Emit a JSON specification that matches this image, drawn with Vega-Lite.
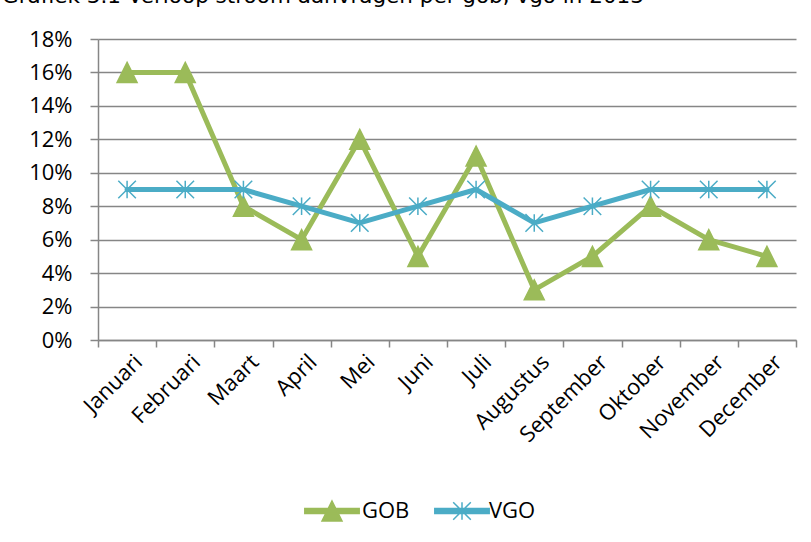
{
  "$schema": "https://vega.github.io/schema/vega-lite/v6.json",
  "width": 698,
  "height": 301,
  "autosize": "none",
  "padding": {"left": 98, "top": 39, "right": 15, "bottom": 202},
  "background": "white",
  "title": {
    "text": "Grafiek 3.1 Verloop stroom aanvragen per gob, vgo in 2013",
    "anchor": "start",
    "frame": "group",
    "font": "DejaVu Sans",
    "fontSize": 21.5,
    "fontWeight": "normal",
    "color": "#000000",
    "baseline": "alphabetic",
    "offset": 0,
    "dx": -96,
    "dy": -4
  },
  "config": {
    "view": {"stroke": null},
    "axis": {"labelFont": "Open Sans", "labelFontSize": 22, "labelColor": "#000000"},
    "legend": {"labelFont": "Open Sans", "labelFontSize": 22, "labelColor": "#000000"}
  },
  "data": {
    "values": [
      {"month": "Januari", "series": "GOB", "value": 0.16},
      {"month": "Februari", "series": "GOB", "value": 0.16},
      {"month": "Maart", "series": "GOB", "value": 0.08},
      {"month": "April", "series": "GOB", "value": 0.06},
      {"month": "Mei", "series": "GOB", "value": 0.12},
      {"month": "Juni", "series": "GOB", "value": 0.05},
      {"month": "Juli", "series": "GOB", "value": 0.11},
      {"month": "Augustus", "series": "GOB", "value": 0.03},
      {"month": "September", "series": "GOB", "value": 0.05},
      {"month": "Oktober", "series": "GOB", "value": 0.08},
      {"month": "November", "series": "GOB", "value": 0.06},
      {"month": "December", "series": "GOB", "value": 0.05},
      {"month": "Januari", "series": "VGO", "value": 0.09},
      {"month": "Februari", "series": "VGO", "value": 0.09},
      {"month": "Maart", "series": "VGO", "value": 0.09},
      {"month": "April", "series": "VGO", "value": 0.08},
      {"month": "Mei", "series": "VGO", "value": 0.07},
      {"month": "Juni", "series": "VGO", "value": 0.08},
      {"month": "Juli", "series": "VGO", "value": 0.09},
      {"month": "Augustus", "series": "VGO", "value": 0.07},
      {"month": "September", "series": "VGO", "value": 0.08},
      {"month": "Oktober", "series": "VGO", "value": 0.09},
      {"month": "November", "series": "VGO", "value": 0.09},
      {"month": "December", "series": "VGO", "value": 0.09}
    ]
  },
  "encoding": {
    "x": {
      "field": "month",
      "type": "nominal",
      "sort": ["Januari", "Februari", "Maart", "April", "Mei", "Juni", "Juli", "Augustus", "September", "Oktober", "November", "December"],
      "scale": {"type": "band", "paddingInner": 0, "paddingOuter": 0},
      "axis": {
        "title": null,
        "labelAngle": -45,
        "tickBand": "extent",
        "tickSize": 7,
        "tickColor": "#868686",
        "tickWidth": 1.5,
        "domainColor": "#868686",
        "domainWidth": 1.5,
        "labelPadding": 4,
        "labelOffset": 4,
        "grid": false
      }
    },
    "y": {
      "field": "value",
      "type": "quantitative",
      "scale": {"domain": [0, 0.18], "nice": false},
      "axis": {
        "title": null,
        "values": [0, 0.02, 0.04, 0.06, 0.08, 0.1, 0.12, 0.14, 0.16, 0.18],
        "format": ".0%",
        "tickSize": 8,
        "tickColor": "#868686",
        "tickWidth": 1.5,
        "domainColor": "#868686",
        "domainWidth": 1.5,
        "grid": true,
        "gridColor": "#868686",
        "gridWidth": 1.5,
        "labelPadding": 18
      }
    }
  },
  "resolve": {"scale": {"color": "independent"}, "legend": {"color": "independent"}},
  "layer": [
    {
      "mark": {"type": "line", "strokeWidth": 5, "strokeCap": "round", "strokeJoin": "round"},
      "encoding": {
        "color": {"field": "series", "type": "nominal", "scale": {"domain": ["GOB", "VGO"], "range": ["#9BBB59", "#4BACC6"]}, "legend": null}
      }
    },
    {
      "transform": [{"filter": "datum.series === 'GOB'"}],
      "mark": {"type": "point", "shape": "M0,-1.25L1.25,1.25L-1.25,1.25Z", "filled": true, "opacity": 1, "size": 256, "stroke": "#9BBB59", "strokeWidth": 1.5},
      "encoding": {
        "color": {
          "field": "series",
          "type": "nominal",
          "scale": {"domain": ["GOB"], "range": ["#9BBB59"]},
          "legend": {
            "title": null,
            "orient": "none",
            "legendX": 223,
            "legendY": 461,
            "padding": 0,
            "symbolSize": 256,
            "symbolType": "M-3.4,-0.3L3.4,-0.3L3.4,0.3L-3.4,0.3Z M0,-1.25L1.25,1.25L-1.25,1.25Z",
            "symbolFillColor": "#9BBB59",
            "symbolStrokeColor": "#9BBB59",
            "symbolStrokeWidth": 1.5,
            "symbolOpacity": 1,
            "labelOffset": 19
          }
        }
      }
    },
    {
      "transform": [{"filter": "datum.series === 'VGO'"}],
      "mark": {"type": "point", "shape": "M-1.1,-1.1L1.1,1.1M-1.1,1.1L1.1,-1.1M0,-1.1L0,1.1", "filled": true, "opacity": 1, "size": 256, "stroke": "#4BACC6", "strokeWidth": 1.5},
      "encoding": {
        "color": {
          "field": "series",
          "type": "nominal",
          "scale": {"domain": ["VGO"], "range": ["#4BACC6"]},
          "legend": {
            "title": null,
            "orient": "none",
            "legendX": 353,
            "legendY": 461,
            "padding": 0,
            "symbolSize": 256,
            "symbolType": "M-3.4,-0.3L3.4,-0.3L3.4,0.3L-3.4,0.3Z M-1.1,-1.1L1.1,1.1M-1.1,1.1L1.1,-1.1M0,-1.1L0,1.1",
            "symbolFillColor": "#4BACC6",
            "symbolStrokeColor": "#4BACC6",
            "symbolStrokeWidth": 1.5,
            "symbolOpacity": 1,
            "labelOffset": 16
          }
        }
      }
    }
  ]
}
